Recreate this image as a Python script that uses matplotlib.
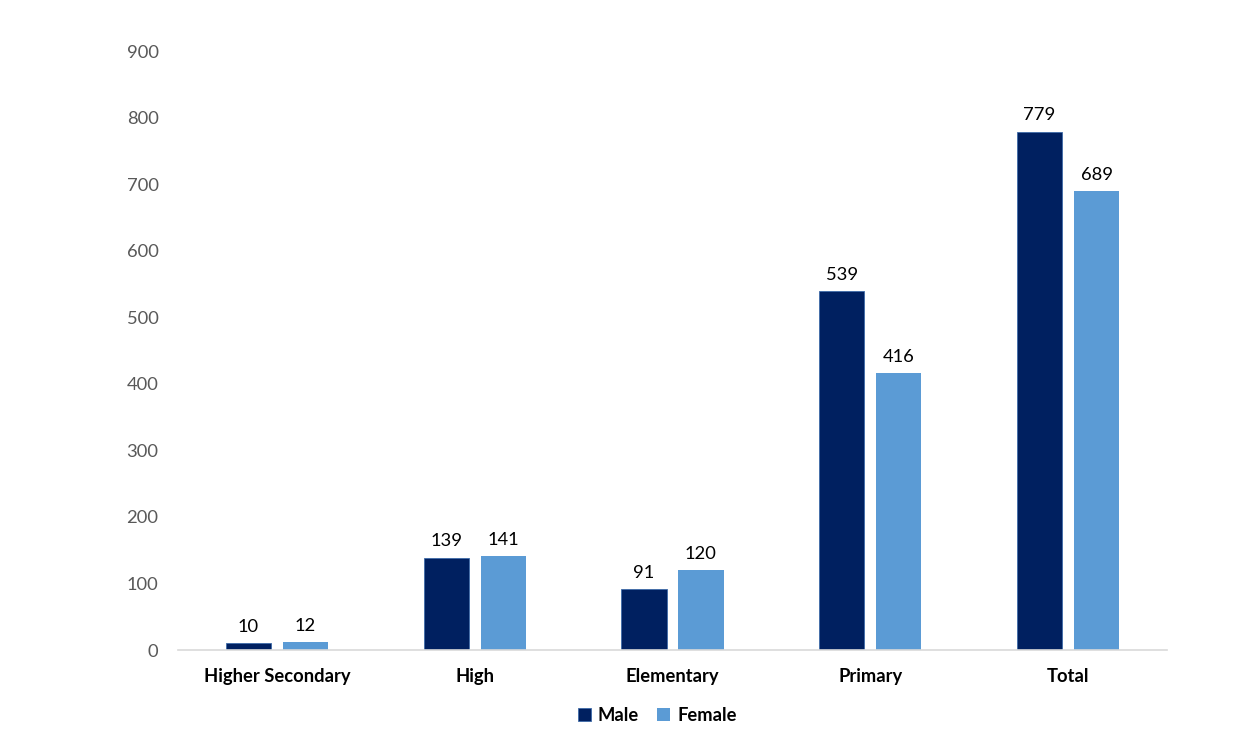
import matplotlib
matplotlib.use("Agg")
import matplotlib.pyplot as plt
import numpy as np

categories = ["Higher Secondary", "High", "Elementary", "Primary", "Total"]
male = [10, 139, 91, 539, 779]
female = [12, 141, 120, 416, 689]
yticks = [0, 100, 200, 300, 400, 500, 600, 700, 800, 900]

plt.rcParams['font.family'] = ['Lato', 'DejaVu Sans']

fig = plt.figure(figsize=(12.57, 7.48), dpi=100)
ax = fig.add_axes([0.1416, 0.131, 0.7868, 0.8008])

x = np.arange(len(categories))
w = 0.228
off = 0.144
c_m = '#002060'
c_f = '#5B9BD5'
bm = ax.bar(x - off, male, w, color=c_m, edgecolor='#3E6BA8', linewidth=0.6, label='Male')
bf = ax.bar(x + off, female, w, color=c_f, label='Female')

fs = 13.2
for xi, v in zip(x - off, male):
    ax.annotate(str(v), (xi, v), xytext=(0, 6), textcoords='offset points',
                ha='center', va='bottom', fontsize=fs, color='black')
for xi, v in zip(x + off, female):
    ax.annotate(str(v), (xi, v), xytext=(0, 6), textcoords='offset points',
                ha='center', va='bottom', fontsize=fs, color='black')

ax.set_xlim(-0.5, len(categories) - 0.5)
ax.set_ylim(0, 900)
ax.set_yticks(yticks)
ax.set_yticklabels([str(t) for t in yticks], fontsize=fs, color='#595959')
ax.set_xticks(x)
ax.set_xticklabels(categories, fontsize=fs, fontweight='bold', color='black')
ax.tick_params(axis='both', length=0)
ax.tick_params(axis='y', pad=14)
ax.tick_params(axis='x', pad=13)
for s in ['top', 'right', 'left']:
    ax.spines[s].set_visible(False)
ax.spines['bottom'].set_color('#D9D9D9')
ax.spines['bottom'].set_linewidth(1.2)

leg = fig.legend(handles=[bm, bf], labels=['Male', 'Female'], loc='center',
                 bbox_to_anchor=(0.523, 0.044), ncol=2, frameon=False,
                 handlelength=0.7, handleheight=0.7, handletextpad=0.4,
                 columnspacing=1.0, prop={'size': fs, 'weight': 'bold'})

fig.savefig('out.png', dpi=100)
